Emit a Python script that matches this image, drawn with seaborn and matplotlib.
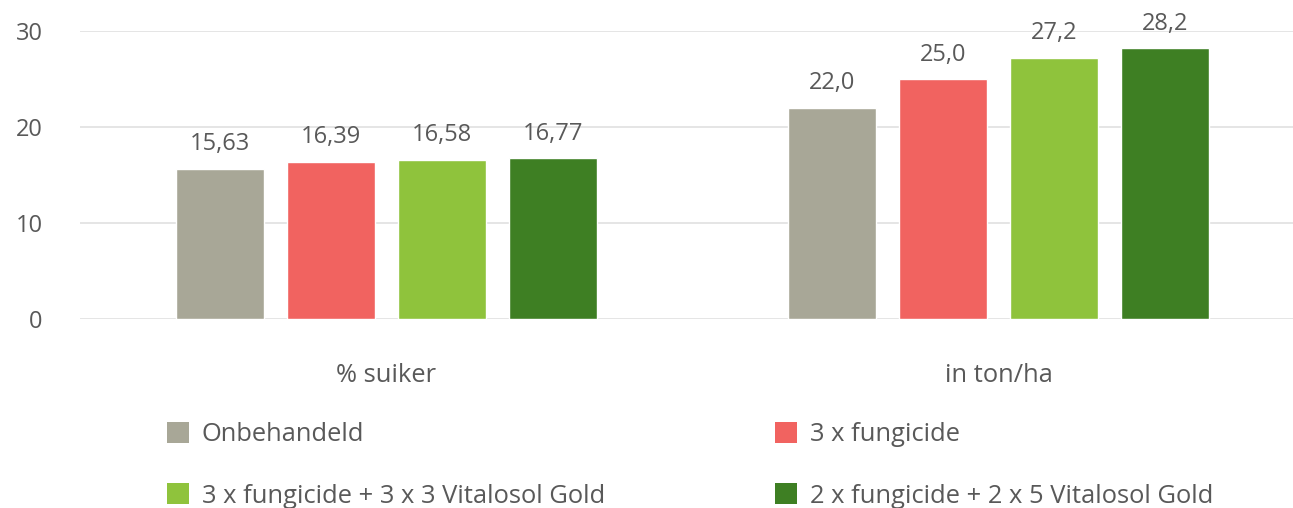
import matplotlib
matplotlib.use("Agg")
import matplotlib.pyplot as plt
from matplotlib.patches import Patch
import seaborn as sns
import pandas as pd

categories = ["% suiker", "in ton/ha"]
series = ["Onbehandeld", "3 x fungicide",
          "3 x fungicide + 3 x 3 Vitalosol Gold",
          "2 x fungicide + 2 x 5 Vitalosol Gold"]
suiker = [15.63, 16.39, 16.58, 16.77]
ton_ha = [22.0, 25.0, 27.2, 28.2]
decimals = [2, 1]
colors = ["#A8A797", "#F16360", "#8FC33C", "#3E7F23"]
yticks = [0, 10, 20, 30]

rows = []
for s, a, b in zip(series, suiker, ton_ha):
    rows.append({"cat": categories[0], "serie": s, "val": a})
    rows.append({"cat": categories[1], "serie": s, "val": b})
df = pd.DataFrame(rows)

sns.set_theme(style="white")
plt.rcParams['font.family'] = ['Open Sans', 'DejaVu Sans']
txt = "#595959"

W, H = 1293, 508
fig = plt.figure(figsize=(W / 100, H / 100), dpi=100)
left, right, bottom, top = 80, 1293, 319, 31
ax = fig.add_axes([left / W, 1 - bottom / H, (right - left) / W, (bottom - top) / H])

sns.barplot(data=df, x="cat", y="val", hue="serie", order=categories,
            hue_order=series, palette=colors, width=0.725, gap=0.2,
            saturation=1, ax=ax, legend=False)

for cont, s in zip(ax.containers, series):
    labs = []
    for bar, d in zip(cont, decimals):
        labs.append(f"{bar.get_height():.{d}f}".replace(".", ","))
    ax.bar_label(cont, labels=labs, padding=9, fontsize=17, color=txt, clip_on=False)

# group centres at 386.5 and 998.5 px -> 612 px per category
ppc = 998.5 - 386.5
ax.set_xlim(-(386.5 - left) / ppc, 1 + (right - 998.5) / ppc)
ax.set_ylim(0, 30)
ax.set_yticks(yticks)
ax.set_yticklabels([str(t) for t in yticks])
ax.yaxis.grid(True, color="#E3E3E3", linewidth=1.3)
ax.set_axisbelow(True)
for sp in ax.spines.values():
    sp.set_visible(False)
ax.tick_params(axis="y", length=0, pad=27, labelsize=17, labelcolor=txt)
ax.tick_params(axis="x", length=0, pad=32, labelsize=18.4, labelcolor=txt)
ax.set_xlabel("")
ax.set_ylabel("")

handles = [Patch(facecolor=c, edgecolor="none") for c in colors]
order = [0, 2, 1, 3]
fig.legend([handles[i] for i in order], [series[i] for i in order],
           ncol=2, loc="upper left", bbox_to_anchor=(167 / W, 1 - 422 / H),
           frameon=False, fontsize=18.4, labelcolor=txt,
           handlelength=0.86, handleheight=0.86, handletextpad=0.5,
           labelspacing=1.42, columnspacing=6.65, borderaxespad=0, borderpad=0)

fig.savefig("out.png", dpi=100)
